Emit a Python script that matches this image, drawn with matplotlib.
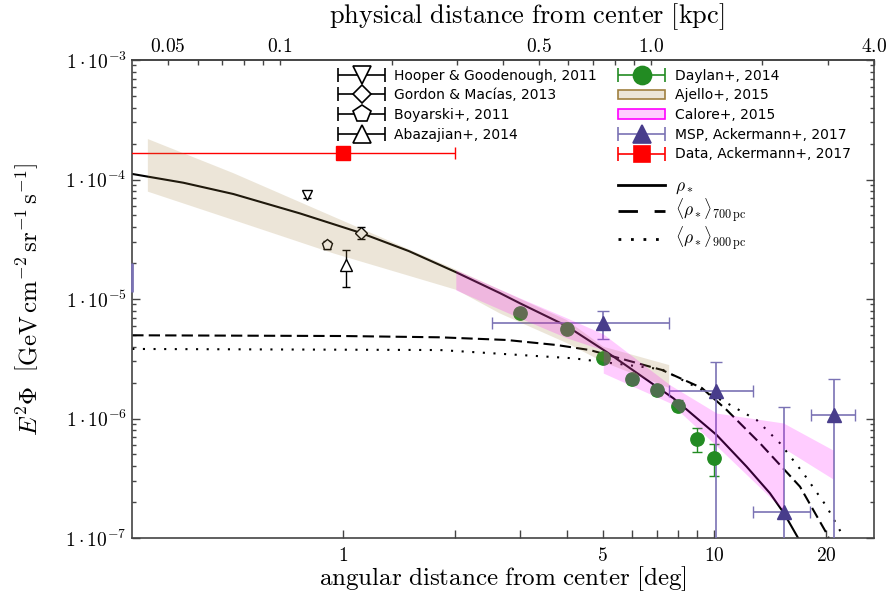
import numpy as np
import matplotlib
matplotlib.use('Agg')
import matplotlib.pyplot as plt
from matplotlib.lines import Line2D
from matplotlib.patches import Patch
from matplotlib.container import ErrorbarContainer
from matplotlib.legend_handler import HandlerErrorbar
from matplotlib.ticker import FixedLocator, FuncFormatter, NullFormatter, LogLocator

plt.rcParams['mathtext.fontset'] = 'cm'
plt.rcParams['font.family'] = ['DejaVu Sans']

R0 = 8.5  # kpc, distance to the galactic center


def deg2kpc(d):
    return R0 * np.deg2rad(d)


def kpc2deg(r):
    return np.rad2deg(np.asarray(r) / R0)


# --- model curves -------------------------------------------------------
rho_deg = [0.2708, 0.37, 0.505, 0.764, 1.109, 1.5, 2.0, 2.644, 2.995, 4.0, 5.13, 7.76, 10.15, 12.23, 14.13,
           15.42, 16.85]
rho_val = [1.11e-4, 9.4e-5, 7.56e-5, 5.2e-5, 3.59e-5, 2.52e-5, 1.69e-5, 1.12e-5, 9.2e-6, 5.94e-6, 3.6e-6,
           1.476e-6, 7.28e-7, 3.95e-7, 2.37e-7, 1.61e-7, 9.94e-8]

r700_deg = [0.2696, 1.0, 1.822, 2.756, 3.76, 4.62, 7.22, 9.26, 10.80, 13.29, 17.03, 20.1, 21.0]
r700_val = [4.97e-6, 4.9e-6, 4.78e-6, 4.54e-6, 4.12e-6, 3.74e-6, 2.55e-6, 1.80e-6, 1.18e-6, 6.2e-7, 2.69e-7,
            1.09e-7, 8.0e-8]

r900_deg = [0.2696, 1.822, 4.17, 7.22, 10.80, 13.02, 15.05, 17.39, 20.1, 22.28, 22.8]
r900_val = [3.82e-6, 3.74e-6, 3.19e-6, 2.58e-6, 1.35e-6, 9.7e-7, 6.2e-7, 3.48e-7, 1.83e-7, 1.03e-7, 8.5e-8]

# --- bands ----------------------------------------------------------------
aj_top_deg = [0.297, 0.505, 0.939, 2.02, 4.0, 5.02, 7.56]
aj_top = [2.18e-4, 1.13e-4, 4.89e-5, 1.75e-5, 6.67e-6, 3.99e-6, 2.80e-6]
aj_bot_deg = [0.297, 0.505, 0.939, 2.02, 2.64, 4.0, 5.02, 7.56]
aj_bot = [7.91e-5, 4.58e-5, 2.41e-5, 1.19e-5, 7.58e-6, 4.28e-6, 2.97e-6, 1.80e-6]

cal_deg = [2.01, 2.99, 4.01, 5.02, 5.02, 7.60, 10.15, 15.36, 15.36, 20.9]
cal_hi = [1.75e-5, 1.02e-5, 6.93e-6, 5.10e-6, 5.10e-6, 1.91e-6, 1.11e-6, 9.17e-7, 9.17e-7, 5.45e-7]
cal_lo = [1.19e-5, 6.93e-6, 4.72e-6, 3.74e-6, 2.40e-6, 1.35e-6, 5.89e-7, 1.72e-7, 5.66e-7, 3.12e-7]

# --- data points ----------------------------------------------------------
day_deg = [3, 4, 5, 6, 7, 8, 9, 10]
day_val = [7.68e-6, 5.58e-6, 3.23e-6, 2.13e-6, 1.73e-6, 1.28e-6, 6.74e-7, 4.65e-7]
day_lo = [7.1e-6, 5.15e-6, 2.98e-6, 1.96e-6, 1.58e-6, 1.15e-6, 5.27e-7, 3.30e-7]
day_hi = [8.3e-6, 6.05e-6, 3.5e-6, 2.3e-6, 1.88e-6, 1.42e-6, 8.28e-7, 6.08e-7]

msp_deg = [5.02, 10.1, 15.45, 21.0]
msp_val = [6.33e-6, 1.70e-6, 1.64e-7, 1.07e-6]
msp_xlo = [2.51, 7.56, 12.75, 18.2]
msp_xhi = [7.56, 12.75, 18.13, 23.9]
msp_ylo = [4.63e-6, 1e-9, 1e-9, 1e-9]
msp_yhi = [7.98e-6, 2.97e-6, 1.26e-6, 2.14e-6]
msp_edge = [1.15e-5, 2.01e-5]

data_deg = [1.0]
data_val = [1.66e-4]
data_xlo = [0.01]
data_xhi = [2.0]

hooper = dict(deg=0.796, val=7.4e-5, lo=7.0e-5, hi=7.8e-5)
gordon = dict(deg=1.113, val=3.55e-5, lo=3.18e-5, hi=3.98e-5)
boyarski = dict(deg=0.901, val=2.83e-5, lo=2.62e-5, hi=3.05e-5)
abazajian = dict(deg=1.016, val=1.92e-5, lo=1.27e-5, hi=2.58e-5)

green = '#228B22'
msp_c = '#483D8B'
msp_e = '#7a72b4'
aj_c = (0.63, 0.50, 0.25)
cal_c = (1.0, 0.0, 1.0)
axc = '#444444'

fig = plt.figure(figsize=(8.88, 5.93), dpi=100)
ax = fig.add_axes([132.3 / 888, 1 - 538 / 593, 741.7 / 888, 478 / 593])
ax.set_xscale('log')
ax.set_yscale('log')
ax.set_xlim(kpc2deg(0.04), kpc2deg(4.0))
ax.set_ylim(1e-7, 1e-3)

# curves
ax.plot(rho_deg, rho_val, color='k', lw=1.5, zorder=2)
ax.plot(r700_deg, r700_val, color='k', lw=1.5, ls=(0, (5.4, 2.5)), zorder=2)
ax.plot(r900_deg, r900_val, color='k', lw=1.5, ls=(0, (1, 4.1)), zorder=2)

# small literature points
for d, m, ms in [(hooper, 'v', 7), (gordon, 'D', 6), (boyarski, 'p', 8), (abazajian, '^', 8.5)]:
    ax.errorbar([d['deg']], [d['val']], yerr=[[d['val'] - d['lo']], [d['hi'] - d['val']]], fmt=m, ms=ms,
                mfc='white', mec='k', mew=1, ecolor='k', elinewidth=1, capsize=3, zorder=3)

ax.errorbar(day_deg, day_val, yerr=[np.subtract(day_val, day_lo), np.subtract(day_hi, day_val)], fmt='o',
            ms=9.6, color=green, ecolor=green, elinewidth=1, capsize=3.5, zorder=3)
ax.errorbar(msp_deg, msp_val, xerr=[np.subtract(msp_deg, msp_xlo), np.subtract(msp_xhi, msp_deg)],
            yerr=[np.subtract(msp_val, msp_ylo), np.subtract(msp_yhi, msp_val)], fmt='^', ms=10.5,
            color=msp_c, ecolor=msp_e, elinewidth=1.2, capsize=4, zorder=3)
ax.vlines(ax.get_xlim()[0], msp_edge[0], msp_edge[1], color=msp_e, lw=2, zorder=3, clip_on=False)
ax.errorbar(data_deg, data_val, xerr=[np.subtract(data_deg, data_xlo), np.subtract(data_xhi, data_deg)],
            fmt='s', ms=9.6, color='red', ecolor='red', elinewidth=1, capsize=4, zorder=3)

# bands drawn on top, translucent
ax.fill(np.r_[aj_top_deg, aj_bot_deg[::-1]], np.r_[aj_top, aj_bot[::-1]], color=aj_c, alpha=0.2, lw=0, zorder=4)
ax.fill_between(cal_deg, cal_lo, cal_hi, color=cal_c, alpha=0.2, lw=0, zorder=4)

# axes styling
ax.xaxis.set_major_locator(FixedLocator([1, 5, 10, 20]))
ax.xaxis.set_minor_locator(FixedLocator([2, 3, 4, 6, 7, 8, 9]))
ax.xaxis.set_major_formatter(FuncFormatter(lambda v, p: r'$%g$' % v))
ax.xaxis.set_minor_formatter(NullFormatter())
ax.yaxis.set_major_locator(LogLocator(base=10))
ax.yaxis.set_minor_locator(LogLocator(base=10, subs=np.arange(2, 10)))
ax.yaxis.set_major_formatter(FuncFormatter(lambda v, p: r'$1\cdot10^{%d}$' % round(np.log10(v))))
ax.yaxis.set_minor_formatter(NullFormatter())
ax.tick_params(axis='x', which='both', direction='in', length=6, width=1, top=False, color=axc,
               labelsize=14, pad=6)
ax.tick_params(axis='y', which='major', direction='in', length=6, width=1, left=True, right=True,
               color=axc, labelsize=14, pad=4)
ax.tick_params(axis='y', which='minor', direction='in', length=3, width=1, left=True, right=True, color=axc)
for s in ax.spines.values():
    s.set_color(axc)
    s.set_linewidth(1.2)

ax.set_xlabel(r'$\mathrm{angular\ distance\ from\ center\ [deg]}$', fontsize=18, labelpad=-1)
ax.set_ylabel(r'$E^2\Phi\ \ \left[\mathrm{GeV\,cm^{-2}\,sr^{-1}\,s^{-1}}\right]$', fontsize=18)
ax.yaxis.set_label_coords(-0.122, 0.5)

secax = ax.secondary_xaxis('top', functions=(deg2kpc, kpc2deg))
secax.xaxis.set_major_locator(FixedLocator([0.05, 0.1, 0.5, 1.0, 4.0]))
secax.xaxis.set_minor_locator(FixedLocator([0.06, 0.07, 0.08, 0.09, 0.2, 0.3, 0.4, 0.6, 0.7, 0.8, 0.9, 2.0, 3.0]))
secax.xaxis.set_major_formatter(FuncFormatter(lambda v, p: {0.05: '$0.05$', 0.1: '$0.1$', 0.5: '$0.5$',
                                                            1.0: '$1.0$', 4.0: '$4.0$'}.get(round(v, 2), '')))
secax.xaxis.set_minor_formatter(NullFormatter())
secax.tick_params(axis='x', which='both', direction='in', length=3.5, width=1, color=axc, labelsize=14, pad=3)
secax.spines['top'].set_color(axc)
secax.spines['top'].set_linewidth(1.2)
secax.set_xlabel(r'$\mathrm{physical\ distance\ from\ center\ [kpc]}$', fontsize=19)
secax.xaxis.set_label_coords(527 / 888, 1 - 17 / 593, transform=fig.transFigure)
secax.xaxis.label.set_verticalalignment('center')

# legends
hmap = {ErrorbarContainer: HandlerErrorbar(xerr_size=1.7)}


def dummy(fmt, ms, mfc, mec, ec, label):
    return ax.errorbar([np.nan], [np.nan], xerr=[[1], [1]], fmt=fmt, ms=ms, mfc=mfc, mec=mec, mew=1.2,
                       ecolor=ec, elinewidth=1.2, capsize=5, label=label)


left_handles = [dummy('v', 12.5, 'white', 'k', 'k', 'Hooper & Goodenough, 2011'),
                dummy('D', 9, 'white', 'k', 'k', 'Gordon & Macías, 2013'),
                dummy('p', 13, 'white', 'k', 'k', 'Boyarski+, 2011'),
                dummy('^', 12.5, 'white', 'k', 'k', 'Abazajian+, 2014')]
leg1 = ax.legend(handles=left_handles, handler_map=hmap, loc='upper left', bbox_to_anchor=(0.2773, 0.982),
                 frameon=False, borderpad=0, borderaxespad=0, fontsize=10, handlelength=3.4,
                 handletextpad=0.65, labelspacing=0.41)
ax.add_artist(leg1)

right_handles = [dummy('o', 13, green, green, green, 'Daylan+, 2014'),
                 Patch(facecolor=(*aj_c, 0.2), edgecolor='#a08040', lw=1.2, label='Ajello+, 2015'),
                 Patch(facecolor=(*cal_c, 0.2), edgecolor='#ff00ff', lw=1.2, label='Calore+, 2015'),
                 dummy('^', 13, msp_c, msp_c, msp_e, 'MSP, Ackermann+, 2017'),
                 dummy('s', 12, 'red', 'red', 'red', 'Data, Ackermann+, 2017')]
leg2 = ax.legend(handles=right_handles, handler_map=hmap, loc='upper left', bbox_to_anchor=(0.655, 0.982),
                 frameon=False, borderpad=0, borderaxespad=0, fontsize=10, handlelength=3.4,
                 handletextpad=0.7, labelspacing=0.41)
ax.add_artist(leg2)

line_handles = [Line2D([], [], color='k', lw=2, label=r'$\rho_*$'),
                Line2D([], [], color='k', lw=2, ls=(0, (7, 6)), label=r'$\langle\rho_*\rangle_{700\,\mathrm{pc}}$'),
                Line2D([], [], color='k', lw=2, ls=(0, (1, 3.5)), label=r'$\langle\rho_*\rangle_{900\,\mathrm{pc}}$')]
ax.legend(handles=line_handles, loc='upper left', bbox_to_anchor=(0.655, 0.755), frameon=False, borderpad=0,
          borderaxespad=0, fontsize=12.5, handlelength=2.7, handletextpad=0.6, labelspacing=0.02)

fig.savefig('out.png', dpi=100)
